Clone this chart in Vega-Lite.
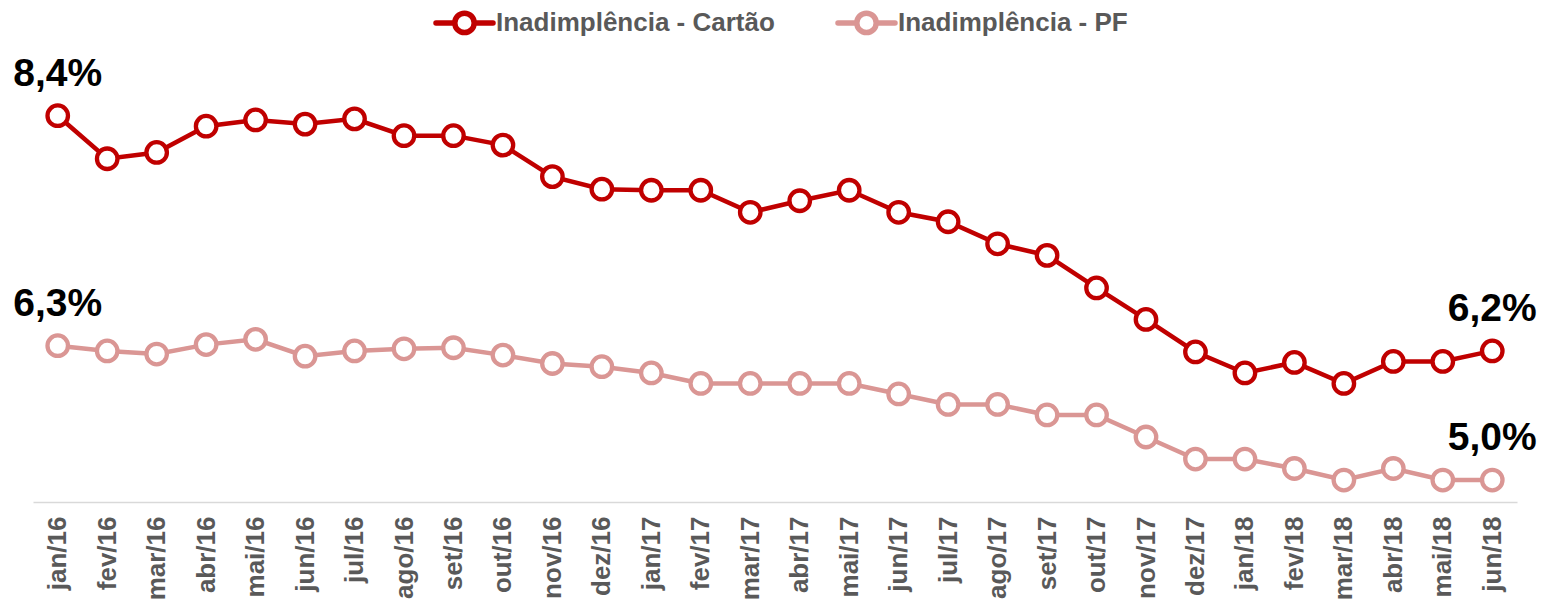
{
  "$schema": "https://vega.github.io/schema/vega-lite/v6.json",
  "width": 1484,
  "height": 502,
  "autosize": {"type": "none"},
  "padding": {"left": 33, "top": 0, "right": 26, "bottom": 102},
  "background": "white",
  "config": {"view": {"stroke": null}, "font": "Liberation Sans"},
  "data": {
    "values": [
      {"mes": "jan/16", "serie": "Inadimplência - Cartão", "valor": 8.45, "rotulo": "8,4%"},
      {"mes": "fev/16", "serie": "Inadimplência - Cartão", "valor": 8.04},
      {"mes": "mar/16", "serie": "Inadimplência - Cartão", "valor": 8.10},
      {"mes": "abr/16", "serie": "Inadimplência - Cartão", "valor": 8.35},
      {"mes": "mai/16", "serie": "Inadimplência - Cartão", "valor": 8.41},
      {"mes": "jun/16", "serie": "Inadimplência - Cartão", "valor": 8.37},
      {"mes": "jul/16", "serie": "Inadimplência - Cartão", "valor": 8.42},
      {"mes": "ago/16", "serie": "Inadimplência - Cartão", "valor": 8.26},
      {"mes": "set/16", "serie": "Inadimplência - Cartão", "valor": 8.26},
      {"mes": "out/16", "serie": "Inadimplência - Cartão", "valor": 8.17},
      {"mes": "nov/16", "serie": "Inadimplência - Cartão", "valor": 7.87},
      {"mes": "dez/16", "serie": "Inadimplência - Cartão", "valor": 7.75},
      {"mes": "jan/17", "serie": "Inadimplência - Cartão", "valor": 7.74},
      {"mes": "fev/17", "serie": "Inadimplência - Cartão", "valor": 7.74},
      {"mes": "mar/17", "serie": "Inadimplência - Cartão", "valor": 7.53},
      {"mes": "abr/17", "serie": "Inadimplência - Cartão", "valor": 7.64},
      {"mes": "mai/17", "serie": "Inadimplência - Cartão", "valor": 7.74},
      {"mes": "jun/17", "serie": "Inadimplência - Cartão", "valor": 7.53},
      {"mes": "jul/17", "serie": "Inadimplência - Cartão", "valor": 7.44},
      {"mes": "ago/17", "serie": "Inadimplência - Cartão", "valor": 7.23},
      {"mes": "set/17", "serie": "Inadimplência - Cartão", "valor": 7.12},
      {"mes": "out/17", "serie": "Inadimplência - Cartão", "valor": 6.81},
      {"mes": "nov/17", "serie": "Inadimplência - Cartão", "valor": 6.51},
      {"mes": "dez/17", "serie": "Inadimplência - Cartão", "valor": 6.20},
      {"mes": "jan/18", "serie": "Inadimplência - Cartão", "valor": 6.00},
      {"mes": "fev/18", "serie": "Inadimplência - Cartão", "valor": 6.10},
      {"mes": "mar/18", "serie": "Inadimplência - Cartão", "valor": 5.90},
      {"mes": "abr/18", "serie": "Inadimplência - Cartão", "valor": 6.11},
      {"mes": "mai/18", "serie": "Inadimplência - Cartão", "valor": 6.11},
      {"mes": "jun/18", "serie": "Inadimplência - Cartão", "valor": 6.21, "rotulo": "6,2%"},
      {"mes": "jan/16", "serie": "Inadimplência - PF", "valor": 6.26, "rotulo": "6,3%"},
      {"mes": "fev/16", "serie": "Inadimplência - PF", "valor": 6.21},
      {"mes": "mar/16", "serie": "Inadimplência - PF", "valor": 6.18},
      {"mes": "abr/16", "serie": "Inadimplência - PF", "valor": 6.27},
      {"mes": "mai/16", "serie": "Inadimplência - PF", "valor": 6.32},
      {"mes": "jun/16", "serie": "Inadimplência - PF", "valor": 6.16},
      {"mes": "jul/16", "serie": "Inadimplência - PF", "valor": 6.21},
      {"mes": "ago/16", "serie": "Inadimplência - PF", "valor": 6.23},
      {"mes": "set/16", "serie": "Inadimplência - PF", "valor": 6.24},
      {"mes": "out/16", "serie": "Inadimplência - PF", "valor": 6.17},
      {"mes": "nov/16", "serie": "Inadimplência - PF", "valor": 6.09},
      {"mes": "dez/16", "serie": "Inadimplência - PF", "valor": 6.06},
      {"mes": "jan/17", "serie": "Inadimplência - PF", "valor": 6.00},
      {"mes": "fev/17", "serie": "Inadimplência - PF", "valor": 5.90},
      {"mes": "mar/17", "serie": "Inadimplência - PF", "valor": 5.90},
      {"mes": "abr/17", "serie": "Inadimplência - PF", "valor": 5.90},
      {"mes": "mai/17", "serie": "Inadimplência - PF", "valor": 5.90},
      {"mes": "jun/17", "serie": "Inadimplência - PF", "valor": 5.80},
      {"mes": "jul/17", "serie": "Inadimplência - PF", "valor": 5.70},
      {"mes": "ago/17", "serie": "Inadimplência - PF", "valor": 5.70},
      {"mes": "set/17", "serie": "Inadimplência - PF", "valor": 5.60},
      {"mes": "out/17", "serie": "Inadimplência - PF", "valor": 5.60},
      {"mes": "nov/17", "serie": "Inadimplência - PF", "valor": 5.39},
      {"mes": "dez/17", "serie": "Inadimplência - PF", "valor": 5.18},
      {"mes": "jan/18", "serie": "Inadimplência - PF", "valor": 5.18},
      {"mes": "fev/18", "serie": "Inadimplência - PF", "valor": 5.09},
      {"mes": "mar/18", "serie": "Inadimplência - PF", "valor": 4.98},
      {"mes": "abr/18", "serie": "Inadimplência - PF", "valor": 5.09},
      {"mes": "mai/18", "serie": "Inadimplência - PF", "valor": 4.98},
      {"mes": "jun/18", "serie": "Inadimplência - PF", "valor": 4.98, "rotulo": "5,0%"}
    ]
  },
  "encoding": {
    "x": {
      "field": "mes",
      "type": "ordinal",
      "sort": null,
      "scale": {"type": "point", "padding": 0.5},
      "axis": {
        "title": null,
        "labelAngle": -90,
        "labelAlign": "right",
        "labelBaseline": "middle",
        "labelPadding": 14,
        "labelFont": "Liberation Sans",
        "labelFontWeight": "bold",
        "labelFontSize": 26,
        "labelColor": "#595959",
        "ticks": false,
        "domainColor": "#d9d9d9",
        "domainWidth": 1.5,
        "grid": false,
        "labelOverlap": false
      }
    },
    "y": {
      "field": "valor",
      "type": "quantitative",
      "scale": {"domain": [4.771, 9.552], "zero": false, "nice": false},
      "axis": null
    }
  },
  "layer": [
    {
      "mark": {"type": "line", "strokeWidth": 4.5},
      "encoding": {
        "stroke": {
          "field": "serie",
          "type": "nominal",
          "scale": {"domain": ["Inadimplência - Cartão", "Inadimplência - PF"], "range": ["#C00000", "#DA9694"]},
          "legend": {
            "title": null,
            "orient": "none",
            "legendX": 400,
            "legendY": -9,
            "direction": "horizontal",
            "columns": 2,
            "columnPadding": 52,
            "symbolType": "M-1,0L-0.34,0M0.34,0L1,0M-0.34,0A0.34,0.34,0,1,1,0.34,0A0.34,0.34,0,1,1,-0.34,0Z",
            "symbolSize": 3249,
            "symbolStrokeWidth": 5.5,
            "symbolFillColor": "white",
            "labelFont": "Liberation Sans",
            "labelFontWeight": "bold",
            "labelFontSize": 26,
            "labelColor": "#595959",
            "labelOffset": 0,
            "labelLimit": 400,
            "encode": {"symbols": {"update": {"fill": {"value": "white"}, "strokeCap": {"value": "round"}}}}
          }
        }
      }
    },
    {
      "mark": {"type": "point", "shape": "circle", "filled": false, "fill": "white", "fillOpacity": 1, "size": 420, "strokeWidth": 4.3, "opacity": 1},
      "encoding": {
        "stroke": {"field": "serie", "type": "nominal", "legend": null}
      }
    },
    {
      "transform": [{"filter": "isValid(datum.rotulo)"}],
      "mark": {"type": "text", "font": "Liberation Sans", "fontWeight": "bold", "fontSize": 39, "color": "black", "dy": -42, "baseline": "middle", "align": "center"},
      "encoding": {
        "text": {"field": "rotulo", "type": "nominal"}
      }
    }
  ]
}
